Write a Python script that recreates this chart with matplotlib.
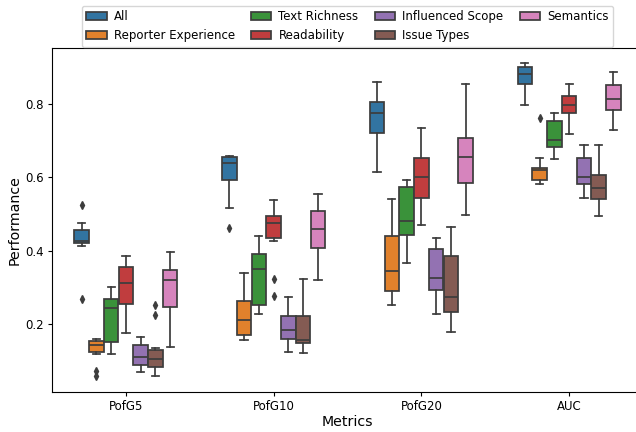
import matplotlib
matplotlib.use("Agg")
import matplotlib.pyplot as plt
from matplotlib.patches import Patch

metrics = ["PofG5", "PofG10", "PofG20", "AUC"]
features = ["All", "Reporter Experience", "Text Richness", "Readability",
            "Influenced Scope", "Issue Types", "Semantics"]
colors = ["#3274a1", "#e1812c", "#3a923a", "#c03d3e", "#9372b2", "#845b53", "#d684bd"]

# box statistics, rows = metrics, columns = features
whislo = [
    [0.414, 0.120, 0.120, 0.176, 0.069, 0.058, 0.139],
    [0.517, 0.156, 0.228, 0.428, 0.124, 0.121, 0.321],
    [0.615, 0.253, 0.367, 0.471, 0.228, 0.179, 0.497],
    [0.798, 0.583, 0.649, 0.719, 0.545, 0.495, 0.730],
]
q1 = [
    [0.420, 0.124, 0.152, 0.255, 0.088, 0.083, 0.248],
    [0.592, 0.170, 0.252, 0.435, 0.161, 0.150, 0.408],
    [0.722, 0.291, 0.443, 0.545, 0.294, 0.232, 0.585],
    [0.855, 0.594, 0.682, 0.776, 0.581, 0.540, 0.783],
]
med = [
    [0.426, 0.142, 0.243, 0.311, 0.112, 0.104, 0.320],
    [0.639, 0.211, 0.351, 0.475, 0.185, 0.156, 0.458],
    [0.774, 0.346, 0.480, 0.601, 0.325, 0.275, 0.655],
    [0.881, 0.621, 0.702, 0.797, 0.602, 0.572, 0.813],
]
q3 = [
    [0.456, 0.153, 0.270, 0.356, 0.142, 0.131, 0.349],
    [0.655, 0.263, 0.392, 0.495, 0.221, 0.221, 0.509],
    [0.805, 0.439, 0.573, 0.652, 0.406, 0.385, 0.706],
    [0.901, 0.626, 0.753, 0.821, 0.654, 0.606, 0.852],
]
whishi = [
    [0.475, 0.161, 0.302, 0.387, 0.164, 0.135, 0.397],
    [0.658, 0.340, 0.441, 0.539, 0.273, 0.323, 0.556],
    [0.860, 0.542, 0.592, 0.735, 0.435, 0.465, 0.854],
    [0.911, 0.654, 0.776, 0.853, 0.689, 0.688, 0.888],
]
# outliers: (metric index, feature index) -> values
outliers = {
    (0, 0): [0.524, 0.268],
    (0, 1): [0.072, 0.060],
    (0, 5): [0.252, 0.225],
    (1, 0): [0.463],
    (1, 3): [0.323, 0.277],
    (3, 1): [0.763],
}

gray = "#3d3d3d"
lw = 1.26
slot = 0.1

fig, ax = plt.subplots(figsize=(6.36, 4.32), dpi=100)
fig.subplots_adjust(left=0.0818, right=1.011, bottom=0.0926, top=0.89)

for i in range(len(metrics)):
    for j in range(len(features)):
        st = dict(whislo=whislo[i][j], q1=q1[i][j], med=med[i][j],
                  q3=q3[i][j], whishi=whishi[i][j],
                  fliers=outliers.get((i, j), []))
        pos = i + (j - 3) * slot
        ax.bxp([st], positions=[pos], widths=slot * 0.98, patch_artist=True,
               manage_ticks=False,
               boxprops=dict(facecolor=colors[j], edgecolor=gray, linewidth=lw),
               medianprops=dict(color=gray, linewidth=lw),
               whiskerprops=dict(color=gray, linewidth=lw),
               capprops=dict(color=gray, linewidth=lw),
               flierprops=dict(marker="d", markerfacecolor=gray,
                               markeredgecolor=gray, markersize=4.2))

ax.set_xlim(-0.5, len(metrics) - 0.5)
ax.set_xticks(range(len(metrics)))
ax.set_xticklabels(metrics)
ax.set_yticks([0.2, 0.4, 0.6, 0.8])
ax.tick_params(labelsize=8.5, length=2.9, pad=2.9, width=0.8)
for s in ax.spines.values():
    s.set_linewidth(0.8)
ax.set_xlabel("Metrics", fontsize=10.2, labelpad=1.5)
ax.set_ylabel("Performance", fontsize=10.2, labelpad=3)

handles = [Patch(facecolor=c, edgecolor=gray, linewidth=lw) for c in colors]
ax.legend(handles, features, loc="lower center", bbox_to_anchor=(0.5, 0.995),
          ncol=4, fontsize=8.5, borderaxespad=0.2, handlelength=1.7,
          columnspacing=1.4, handletextpad=0.6)

fig.savefig("out.png", dpi=100)
